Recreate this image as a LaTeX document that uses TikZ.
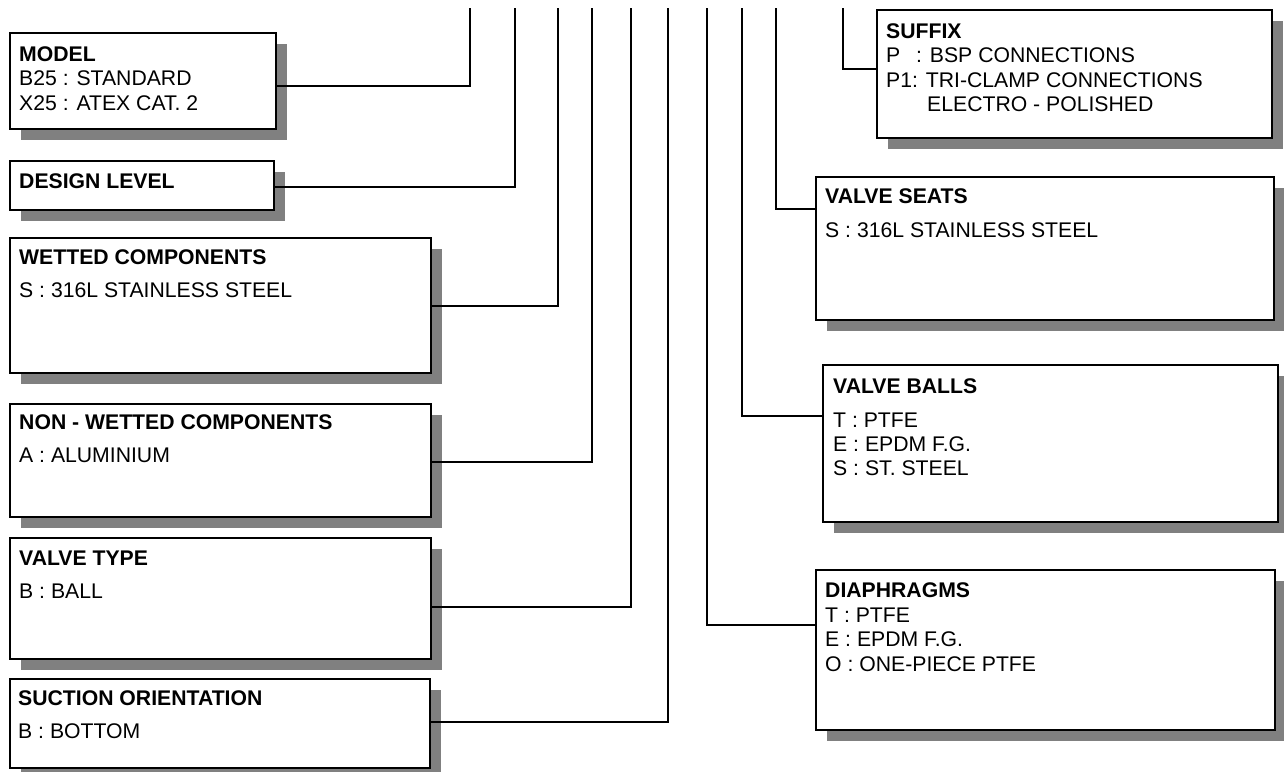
\documentclass[tikz,border=0pt]{standalone}
\usepackage{fontspec}
\setmainfont{Liberation Sans}
\usetikzlibrary{shadows}
\definecolor{shadowgray}{HTML}{808080}
\begin{document}
\begin{tikzpicture}[x=1pt,y=-1pt,
  box/.style={draw=black,line width=2.2pt,fill=white,rectangle,inner sep=0pt,anchor=north west,
    drop shadow={shadow xshift=11pt,shadow yshift=-11pt,fill=shadowgray,opacity=1}},
  conn/.style={draw=black,line width=2pt},
  ttl/.style={anchor=base west,inner sep=0pt,font=\fontsize{21.2pt}{24pt}\selectfont\bfseries},
  txt/.style={anchor=base west,inner sep=0pt,font=\fontsize{21.2pt}{24pt}\selectfont}]
\useasboundingbox (0,0) rectangle (1284,771);
% boxes
\node[box,minimum width=266pt,minimum height=96pt] (model) at (9,32) {};
\node[box,minimum width=264pt,minimum height=49pt] (design) at (9,160) {};
\node[box,minimum width=421pt,minimum height=135pt] (wetted) at (9,237) {};
\node[box,minimum width=421pt,minimum height=113pt] (nonwet) at (9,403) {};
\node[box,minimum width=421pt,minimum height=121pt] (vtype) at (9,537) {};
\node[box,minimum width=420pt,minimum height=89pt] (suction) at (9,678) {};
\node[box,minimum width=395pt,minimum height=128pt] (suffix) at (876,9) {};
\node[box,minimum width=458pt,minimum height=143pt] (seats) at (815,176) {};
\node[box,minimum width=455pt,minimum height=157pt] (balls) at (822,364) {};
\node[box,minimum width=459pt,minimum height=160pt] (diaph) at (815,569) {};
% texts
\node[ttl] (m1) at (19,61) {MODEL};
\node[txt] (m2) at (19,85.5) {B25 : STANDARD};
\node[txt] (m3) at (19,110) {X25 : ATEX CAT. 2};
\node[ttl] (d1) at (19,188) {DESIGN LEVEL};
\node[ttl] (w1) at (19,264) {WETTED COMPONENTS};
\node[txt] (w2) at (19,297) {S : 316L STAINLESS STEEL};
\node[ttl] (n1) at (19,429) {NON - WETTED COMPONENTS};
\node[txt] (n2) at (19,462) {A : ALUMINIUM};
\node[ttl] (v1) at (19,565) {VALVE TYPE};
\node[txt] (v2) at (19,598) {B : BALL};
\node[ttl] (s1) at (18,705) {SUCTION ORIENTATION};
\node[txt] (s2) at (18,738) {B : BOTTOM};
\node[ttl] (f1) at (886,38.5) {SUFFIX};
\node[txt] (f2) at (886,62.5) {\makebox[30pt][l]{P}: BSP CONNECTIONS};
\node[txt] (f3) at (886,87) {P1: TRI-CLAMP CONNECTIONS};
\node[txt] (f4) at (927,111) {ELECTRO - POLISHED};
\node[ttl] (e1) at (825,203) {VALVE SEATS};
\node[txt] (e2) at (825,237) {S : 316L STAINLESS STEEL};
\node[ttl] (b1) at (833,393) {VALVE BALLS};
\node[txt] (b2) at (833,427) {T : PTFE};
\node[txt] (b3) at (833,451) {E : EPDM F.G.};
\node[txt] (b4) at (833,475) {S : ST. STEEL};
\node[ttl] (g1) at (825,597) {DIAPHRAGMS};
\node[txt] (g2) at (825,622) {T : PTFE};
\node[txt] (g3) at (825,646) {E : EPDM F.G.};
\node[txt] (g4) at (825,671) {O : ONE-PIECE PTFE};
% line tops
\coordinate (t1) at (470,8);
\coordinate (t2) at (515,8);
\coordinate (t3) at (558,8);
\coordinate (t4) at (592,8);
\coordinate (t5) at (631,8);
\coordinate (t6) at (668,8);
\coordinate (t7) at (707,8);
\coordinate (t8) at (742,8);
\coordinate (t9) at (776,8);
\coordinate (t10) at (843,8);
% connectors
\draw[conn] ([yshift=-5pt]model.east) -| (t1);
\draw[conn] ([yshift=-1pt]design.east) -| (t2);
\draw[conn] (wetted.east) -| (t3);
\draw[conn] ([yshift=-1pt]nonwet.east) -| (t4);
\draw[conn] ([yshift=-8.5pt]vtype.east) -| (t5);
\draw[conn] ([yshift=2pt]suction.east) -| (t6);
\draw[conn] ([yshift=25.5pt]diaph.west) -| (t7);
\draw[conn] ([yshift=27.5pt]balls.west) -| (t8);
\draw[conn] ([yshift=39.5pt]seats.west) -| (t9);
\draw[conn] ([yshift=5pt]suffix.west) -| (t10);
\end{tikzpicture}
\end{document}
